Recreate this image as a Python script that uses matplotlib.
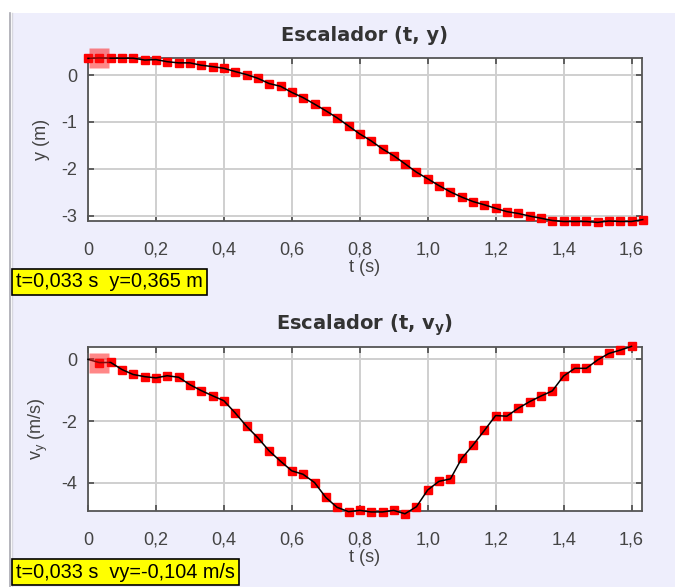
import matplotlib
matplotlib.use("Agg")
import matplotlib.pyplot as plt
from matplotlib.ticker import FuncFormatter, FixedLocator
from matplotlib.patches import Rectangle
from matplotlib.lines import Line2D

plt.rcParams['font.family'] = ['Liberation Sans', 'DejaVu Sans']
plt.rcParams['mathtext.fontset'] = 'custom'
plt.rcParams['mathtext.rm'] = 'Liberation Sans'
plt.rcParams['mathtext.it'] = 'Liberation Sans'
plt.rcParams['mathtext.bf'] = 'DejaVu Sans:bold'

# Video tracking samples, 30 frames per second
t = [0.000, 0.033, 0.067, 0.100, 0.133, 0.167, 0.200, 0.233, 0.267, 0.300,
     0.333, 0.367, 0.400, 0.433, 0.467, 0.500, 0.533, 0.567, 0.600, 0.633,
     0.667, 0.700, 0.733, 0.767, 0.800, 0.833, 0.867, 0.900, 0.933, 0.967,
     1.000, 1.033, 1.067, 1.100, 1.133, 1.167, 1.200, 1.233, 1.267, 1.300,
     1.333, 1.367, 1.400, 1.433, 1.467, 1.500, 1.533, 1.567, 1.600, 1.633]

y = [0.355, 0.365, 0.36, 0.36, 0.36, 0.32, 0.33, 0.285, 0.26, 0.26,
     0.21, 0.18, 0.145, 0.075, 0.01, -0.07, -0.18, -0.24, -0.37, -0.48,
     -0.62, -0.76, -0.91, -1.085, -1.255, -1.40, -1.575, -1.72, -1.89, -2.07,
     -2.21, -2.355, -2.49, -2.60, -2.695, -2.765, -2.84, -2.91, -2.95, -3.005,
     -3.05, -3.10, -3.12, -3.12, -3.12, -3.14, -3.11, -3.12, -3.12, -3.08]

# vertical velocity; first value (t = 0) only anchors the line
vy = [0.0, -0.104, -0.10, -0.33, -0.49, -0.56, -0.60, -0.53, -0.58, -0.82,
      -1.01, -1.18, -1.34, -1.73, -2.17, -2.54, -2.96, -3.30, -3.61, -3.72,
      -3.99, -4.47, -4.79, -4.93, -4.89, -4.94, -4.94, -4.89, -5.00, -4.77,
      -4.23, -3.95, -3.87, -3.21, -2.78, -2.30, -1.82, -1.84, -1.58, -1.37,
      -1.19, -1.02, -0.54, -0.29, -0.29, -0.02, 0.19, 0.30, 0.42]

x_ticks = [0, 0.2, 0.4, 0.6, 0.8, 1.0, 1.2, 1.4, 1.6]
y_ticks = [0, -1, -2, -3]
vy_ticks = [0, -2, -4]

sel_t = 0.033
sel_y = 0.365
sel_vy = -0.104

W, H = 675, 587
fig = plt.figure(figsize=(W / 100, H / 100), dpi=100, facecolor='white')

BG = '#eeeefc'
fig.patches.append(Rectangle((12 / W, 0), 1 - 12 / W, 1 - 13 / H,
                             transform=fig.transFigure, facecolor=BG,
                             edgecolor='none', zorder=-10))
fig.lines.append(Line2D([9.5 / W, 9.5 / W], [0, 1 - 13 / H],
                        transform=fig.transFigure, color='#a8a8b0', lw=1.2,
                        zorder=-5))
fig.lines.append(Line2D([11.5 / W, 11.5 / W], [0, 1 - 13 / H],
                        transform=fig.transFigure, color='#d8d8e0', lw=1.0,
                        zorder=-5))


def comma(v, pos):
    if abs(v) < 1e-9:
        return "0"
    return f"{v:.1f}".replace('.', ',')


def integer(v, pos):
    return f"{int(round(v))}"


AX_L, AX_R = 88, 641.7


def style(ax, yticks):
    ax.set_facecolor('white')
    ax.set_zorder(2)
    ax.set_xlim(0, 1.63)
    ax.xaxis.set_major_locator(FixedLocator(x_ticks))
    ax.xaxis.set_major_formatter(FuncFormatter(comma))
    ax.yaxis.set_major_locator(FixedLocator(yticks))
    ax.yaxis.set_major_formatter(FuncFormatter(integer))
    ax.grid(True, color='#cfcfcf', lw=1.4)
    ax.set_axisbelow(True)
    for sp in ax.spines.values():
        sp.set_color('#555555')
        sp.set_linewidth(1.3)
    ax.tick_params(direction='in', length=4, width=1.3, color='#555555',
                   top=True, right=True, labelsize=13, labelcolor='#444444')
    ax.tick_params(axis='x', pad=15)
    ax.tick_params(axis='y', pad=8)
    ax.set_xlabel('t (s)', fontsize=13, color='#444444', labelpad=0)
    ax.yaxis.set_label_coords((50 - AX_L) / (AX_R - AX_L), 0.5)


def draw(ax, tt, vals, sel_val, first):
    ax.plot(tt[first:], vals[first:], ls='none', marker='s', ms=6,
            color='#ff0000', mec='#ff0000', clip_on=False, zorder=3)
    ax.plot(tt, vals, color='black', lw=1.1, clip_on=False, zorder=4)
    ax.plot([sel_t], [sel_val], ls='none', marker='s', ms=14.5,
            color='#ff1010', alpha=0.5, mec='none', clip_on=False, zorder=5)


title_kw = dict(fontsize=14, fontweight='bold', color='#333333',
                family='DejaVu Sans')

# position panel
ax1 = fig.add_axes([AX_L / W, 1 - 221 / H, (AX_R - AX_L) / W, (221 - 57.7) / H])
style(ax1, y_ticks)
ax1.set_ylim(-3.11, 0.37)
draw(ax1, t, y, sel_y, 0)
ax1.set_ylabel('y (m)', fontsize=13, color='#444444')
ax1.set_title('Escalador (t, y)', pad=12, **title_kw)

# velocity panel
ax2 = fig.add_axes([AX_L / W, 1 - 511 / H, (AX_R - AX_L) / W, (511 - 346.7) / H])
style(ax2, vy_ticks)
ax2.set_ylim(-4.91, 0.41)
draw(ax2, t[:len(vy)], vy, sel_vy, 1)
ax2.set_ylabel(r'v$_\mathregular{y}$ (m/s)', fontsize=13, color='#444444')
ax2.set_title(r'Escalador (t, v$_\mathbf{y}$)', pad=12, **title_kw)

box = dict(boxstyle='square,pad=0.2', facecolor='#ffff00',
           edgecolor='black', lw=1.2)
fig.text(16 / W, 1 - 282 / H,
         f"t={sel_t:.3f} s  y={sel_y:.3f} m".replace('.', ','),
         fontsize=14.3, color='black', va='center', ha='left', bbox=box,
         zorder=6)
fig.text(16 / W, 1 - 572 / H,
         f"t={sel_t:.3f} s  vy={sel_vy:.3f} m/s".replace('.', ','),
         fontsize=14.3, color='black', va='center', ha='left', bbox=box,
         zorder=6)

fig.savefig('out.png', dpi=100, facecolor='white')
